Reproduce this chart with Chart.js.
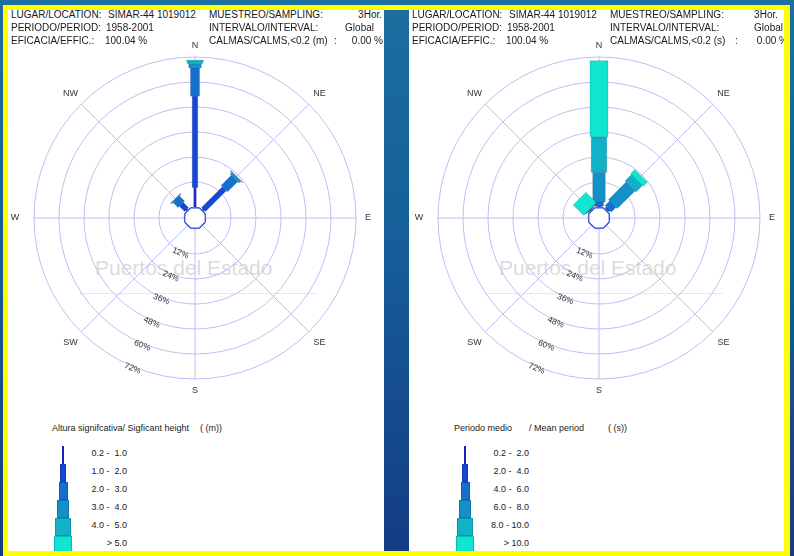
<!DOCTYPE html>
<html>
<head>
<meta charset="utf-8">
<script src="https://cdn.jsdelivr.net/npm/chart.js@4.4.1/dist/chart.umd.min.js"></script>
<style>
html, body { margin: 0; padding: 0; }
body {
    width: 794px; height: 556px; overflow: hidden; position: relative;
    background: linear-gradient(180deg, #1c6f9f 0%, #16609a 40%, #143c82 100%);
    font-family: Arial, "Liberation Sans", Helvetica, sans-serif; color: #1a1a1a;
}
.frame { position: absolute; background: #ffff00; }
.panel { position: absolute; top: 10px; height: 541px; background: #fff; overflow: hidden; }
.t { position: absolute; white-space: pre; line-height: 14px; }
.wm { position: absolute; font-size: 21px; color: #dcdcdc; white-space: pre; line-height: 24px; }
.wl { position: absolute; height: 1px; background: #f9e6c4; }
canvas { position: absolute; top: 18px; }
.lb { position: absolute; box-sizing: border-box; border: 1px solid rgba(0, 0, 60, 0.18); }
</style>
</head>
<body>
<div class="frame" style="left:3px;top:5px;width:787px;height:5px"></div>
<div class="frame" style="left:3px;top:551px;width:787px;height:5px"></div>
<div class="frame" style="left:3px;top:5px;width:5px;height:551px"></div>
<div class="frame" style="left:784px;top:5px;width:6px;height:551px"></div>

<div class="panel" id="pl" style="left:8px;width:376px">
    <canvas id="ch-hs" width="380" height="380" style="left:-3px"></canvas>
</div>
<div class="panel" id="pr" style="left:409px;width:375px">
    <canvas id="ch-tm" width="380" height="380" style="left:0px"></canvas>
</div>

<script>
// ── datos ───────────────────────────────────────────────────────────────
const DIRS  = ['N', 'NE', 'E', 'SE', 'S', 'SW', 'W', 'NW'];
const RINGS = [12, 24, 36, 48, 60, 72];

// Altura significativa (m): % por direccion, una lista por clase
const HS_CLASSES = ['0.2 -  1.0', '1.0 -  2.0', '2.0 -  3.0', '3.0 -  4.0', '4.0 -  5.0', '> 5.0'];
const hs_02_10 = [9.3,  0.5,  0, 0, 0, 0, 0, 0.4];
const hs_10_20 = [43.9, 14.1, 0, 0, 0, 0, 0, 3.6];
const hs_20_30 = [13.6, 6.9,  0, 0, 0, 0, 0, 3.4];
const hs_30_40 = [2.0,  1.0,  0, 0, 0, 0, 0, 0.5];
const hs_40_50 = [1.4,  0.4,  0, 0, 0, 0, 0, 0.1];
const hs_50    = [0.3,  0.1,  0, 0, 0, 0, 0, 0];

// Periodo medio (s)
const TM_CLASSES = ['0.2 -  2.0', '2.0 -  4.0', '4.0 -  6.0', '6.0 -  8.0', '8.0 - 10.0', '> 10.0'];
const tm_02_20  = [0.1,  0.2,  0, 0, 0, 0, 0, 0.1];
const tm_20_40  = [0.3,  0.8,  0, 0, 0, 0, 0, 0.1];
const tm_40_60  = [2.0,  3.1,  0, 0, 0, 0, 0, 0.2];
const tm_60_80  = [14.2, 12.0, 0, 0, 0, 0, 0, 0.2];
const tm_80_100 = [17.1, 4.4,  0, 0, 0, 0, 0, 0.3];
const tm_100    = [36.5, 2.8,  0, 0, 0, 0, 0, 7.0];

// ── estilo ──────────────────────────────────────────────────────────────
const CLASS_COLORS = ['#1a30cc', '#1549d4', '#156fce', '#1390c6', '#11b2c8', '#0fe5d0'];
const CLASS_W      = [2.5, 5.5, 9, 12.5, 15.5, 18];
const GRID   = '#bdbef4';
const HOLE   = -5.3;          // deja el circulo central de calmas
const LBL_PAD = [11, 15, 12, 15, 12, 15, 19, 15];
const HDR = 10;

// ── helpers de texto ────────────────────────────────────────────────────
const ORIG = { pl: 8, pr: 409 };
function put(pid, s, x, y, size, right) {
    const el = document.createElement('div');
    el.className = 't';
    el.textContent = s;
    el.style.fontSize = size + 'px';
    el.style.left = (x - ORIG[pid]) + 'px';
    el.style.top  = (y - 10 - 7) + 'px';
    if (right) el.style.transform = 'translateX(-100%)';
    document.getElementById(pid).appendChild(el);
}

function header(pid, dx, unit, vals) {
    put(pid, 'LUGAR/LOCATION:', 11 + dx, 15, HDR);
    put(pid, 'SIMAR-44 1019012', 108 + dx, 15, HDR);
    put(pid, 'MUESTREO/SAMPLING:', 209 + dx, 15, HDR);
    put(pid, '3Hor.', vals[0] + dx, 15, HDR, true);
    put(pid, 'PERIODO/PERIOD:', 11 + dx, 28, HDR);
    put(pid, '1958-2001', 106 + dx, 28, HDR);
    put(pid, 'INTERVALO/INTERVAL:', 209 + dx, 28, HDR);
    put(pid, 'Global', vals[1] + dx, 28, HDR, true);
    put(pid, 'EFICACIA/EFFIC.:', 11 + dx, 41, HDR);
    put(pid, '100.04 %', 105 + dx, 41, HDR);
    put(pid, 'CALMAS/CALMS,<0.2 (' + unit + ')', 209 + dx, 41, HDR);
    put(pid, ':', 334 + dx, 41, HDR);
    put(pid, '0.00 %', vals[2] + dx, 41, HDR, true);
}

function watermark(pid, dx) {
    const p = document.getElementById(pid);
    const w = document.createElement('div');
    w.className = 'wm';
    w.textContent = 'Puertos del Estado';
    w.style.left = (95 + dx - ORIG[pid]) + 'px';
    w.style.top  = (256 - 10) + 'px';
    p.insertBefore(w, p.firstChild);
    const l = document.createElement('div');
    l.className = 'wl';
    l.style.left = (80 + dx - ORIG[pid]) + 'px';
    l.style.top  = (293 - 10) + 'px';
    l.style.width = '238px';
    p.insertBefore(l, p.firstChild);
}

function legend(pid, cx, labelRight, classes) {
    const p = document.getElementById(pid);
    classes.forEach((lab, k) => {
        const b = document.createElement('div');
        b.className = 'lb';
        b.style.left = (cx - CLASS_W[k] / 2 - ORIG[pid]) + 'px';
        b.style.top  = (446 + 18 * k - 10) + 'px';
        b.style.width = CLASS_W[k] + 'px';
        b.style.height = '18px';
        b.style.background = CLASS_COLORS[k];
        p.appendChild(b);
        put(pid, lab, labelRight, 453 + 18 * k, 9, true);
    });
}

// ── plugin: petalos, calmas y rotulos ───────────────────────────────────
const rosePlugin = {
    id: 'rose',
    afterDatasetsDraw(chart) {
        const sc = chart.scales.r, ctx = chart.ctx;
        const dist = v => sc.getDistanceFromCenterForValue(v);
        ctx.save();
        DIRS.forEach((d, i) => {
            let cum = 0;
            chart.data.datasets.forEach((ds, k) => {
                const v = ds.data[i];
                if (!v) return;
                const p0 = sc.getPointPosition(i, dist(cum));
                const p1 = sc.getPointPosition(i, dist(cum + v));
                cum += v;
                const w = CLASS_W[k] / 2;
                const nx = -Math.sin(p0.angle) * w, ny = Math.cos(p0.angle) * w;
                ctx.beginPath();
                ctx.moveTo(p0.x + nx, p0.y + ny);
                ctx.lineTo(p1.x + nx, p1.y + ny);
                ctx.lineTo(p1.x - nx, p1.y - ny);
                ctx.lineTo(p0.x - nx, p0.y - ny);
                ctx.closePath();
                ctx.fillStyle = ds.backgroundColor;
                ctx.fill();
                ctx.lineWidth = 0.6;
                ctx.strokeStyle = 'rgba(0, 0, 70, 0.25)';
                ctx.stroke();
            });
        });

        // calmas
        const r0 = dist(0);
        ctx.beginPath();
        ctx.arc(sc.xCenter, sc.yCenter, r0 - 0.5, 0, Math.PI * 2);
        ctx.fillStyle = '#fff';
        ctx.fill();
        ctx.beginPath();
        for (let k = 0; k <= 8; k++) {
            const a = (k * 45 + 22.5) * Math.PI / 180;
            const x = sc.xCenter + Math.cos(a) * r0, y = sc.yCenter + Math.sin(a) * r0;
            k ? ctx.lineTo(x, y) : ctx.moveTo(x, y);
        }
        ctx.lineWidth = 1.2;
        ctx.strokeStyle = '#2a48d0';
        ctx.stroke();

        // porcentajes
        ctx.fillStyle = '#333';
        ctx.font = '8.5px Arial, "Liberation Sans", sans-serif';
        ctx.textAlign = 'center';
        ctx.textBaseline = 'middle';
        const a = 112.5 * Math.PI / 180;
        RINGS.forEach(v => {
            const r = dist(v) + 2;
            ctx.save();
            ctx.translate(sc.xCenter + Math.cos(a) * r, sc.yCenter + Math.sin(a) * r);
            ctx.rotate(22.5 * Math.PI / 180);
            ctx.fillText(v + '%', 0, 0);
            ctx.restore();
        });

        // direcciones
        ctx.font = '9px Arial, "Liberation Sans", sans-serif';
        const R = dist(sc.max);
        DIRS.forEach((d, i) => {
            const p = sc.getPointPosition(i, R + LBL_PAD[i]);
            ctx.fillText(d, p.x, p.y);
        });
        ctx.restore();
    },
};

function buildRose(id, sets, classes) {
    return new Chart(document.getElementById(id), {
        type: 'radar',
        data: {
            labels: DIRS,
            datasets: sets.map((d, k) => ({
                label: classes[k], data: d,
                backgroundColor: CLASS_COLORS[k], borderColor: 'transparent',
                borderWidth: 0, pointRadius: 0, fill: false, showLine: false,
            })),
        },
        options: {
            responsive: false, animation: false, events: [],
            layout: { padding: 29 },
            plugins: { legend: { display: false }, tooltip: { enabled: false } },
            scales: {
                r: {
                    min: HOLE, max: 72,
                    afterBuildTicks: s => { s.ticks = [0, ...RINGS].map(v => ({ value: v })); },
                    ticks: { display: false },
                    grid: { circular: true, color: GRID, lineWidth: 1 },
                    angleLines: { color: GRID, lineWidth: 1 },
                    pointLabels: { display: false },
                },
            },
        },
        plugins: [rosePlugin],
    });
}

header('pl', 0, 'm', [382, 374, 383]);
header('pr', 401, 's', [377, 382, 387]);
watermark('pl', 0);
watermark('pr', 404);

put('pl', 'Altura signifcativa/ Sigficant height', 52, 428, 9);
put('pl', '( (m))', 200, 428, 9);
legend('pl', 63, 127, HS_CLASSES);

put('pr', 'Periodo medio', 454, 428, 9);
put('pr', '/ Mean period', 529, 428, 9);
put('pr', '( (s))', 608, 428, 9);
legend('pr', 465, 529, TM_CLASSES);

buildRose('ch-hs', [hs_02_10, hs_10_20, hs_20_30, hs_30_40, hs_40_50, hs_50], HS_CLASSES);
buildRose('ch-tm', [tm_02_20, tm_20_40, tm_40_60, tm_60_80, tm_80_100, tm_100], TM_CLASSES);
</script>
</body>
</html>
